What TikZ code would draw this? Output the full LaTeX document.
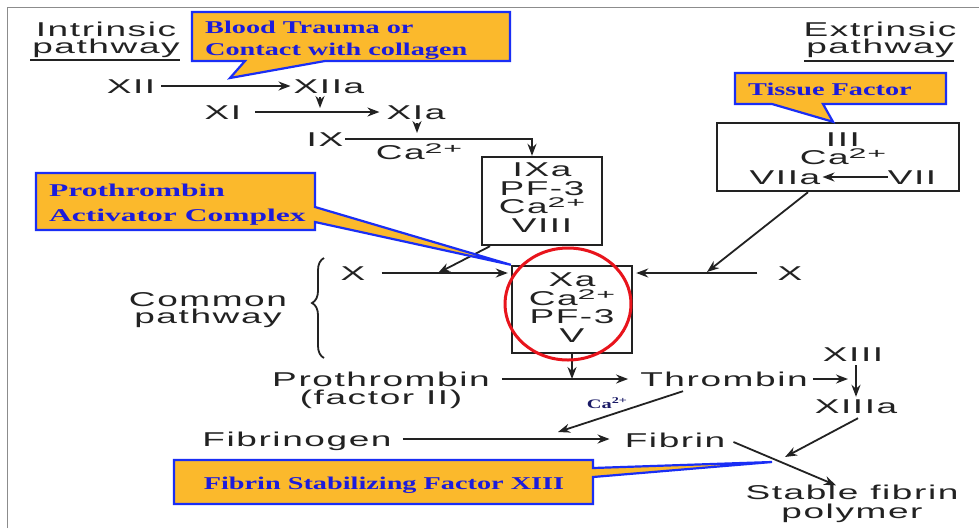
\documentclass[tikz,border=0pt]{standalone}
\usepackage{fontspec}
\setmainfont{Liberation Sans}[FakeStretch=1.85,LetterSpace=8]
\newfontfamily\supfont{Liberation Sans}[FakeStretch=2.3,LetterSpace=6]
\newfontfamily\calfont{Liberation Serif}[FakeStretch=1.57]
\newfontfamily\calwide{Liberation Serif}[FakeStretch=1.75]
\usetikzlibrary{arrows.meta,decorations.pathreplacing}
\definecolor{ink}{HTML}{222222}
\definecolor{calfill}{HTML}{FBB92C}
\definecolor{calblue}{HTML}{1A2EF5}
\definecolor{caltext}{HTML}{1C1CDC}
\definecolor{canavy}{HTML}{1A1A66}
\definecolor{ringred}{HTML}{E8141C}
\newcommand\catwo{Ca\smash{\raisebox{6pt}{\supfont\fontsize{14}{14}\selectfont 2+}}}
\newcommand\casmall{Ca\smash{\raisebox{4.5pt}{\fontsize{9}{9}\selectfont 2+}}}
\begin{document}
\begin{tikzpicture}[x=1pt,y=-1pt,
  lbl/.style={font=\fontsize{20}{20}\selectfont, inner sep=0pt, text height=14pt, text depth=0pt, text=ink},
  boxnode/.style={draw=ink, line width=2.4pt, font=\fontsize{20}{18.5}\selectfont, text=ink, align=center, inner sep=0pt},
  arr/.style={draw=ink, line width=1.8pt, -{Stealth[length=12pt,width=9pt]}},
  callout/.style={fill=calfill, draw=calblue, line width=2.2pt, line join=miter},
  caltxt/.style={font=\calfont\bfseries\fontsize{18}{18}\selectfont, text=caltext, inner sep=0pt, anchor=base west},
  calwtxt/.style={font=\calwide\bfseries\fontsize{18}{18}\selectfont, text=caltext, inner sep=0pt, anchor=base west}
]
\useasboundingbox (0,0) rectangle (979,528);
\fill[white] (0,0) rectangle (979,528);
\draw[black!45, line width=1pt] (7,528) -- (7,7) -- (979,7);

% ---- labels ----
\node[lbl] (intr1) at (106,29) {Intrinsic};
\node[lbl] (intr2) at (106,46) {pathway};
\node[lbl] (ext1) at (880,29) {Extrinsic};
\node[lbl] (ext2) at (880,46) {pathway};
\node[lbl] (xii) at (131,86) {XII};
\node[lbl] (xiia) at (329,86) {XIIa};
\node[lbl] (xi) at (223,112) {XI};
\node[lbl] (xia) at (416,112) {XIa};
\node[lbl] (ix) at (325,139) {IX};
\node[lbl] (ca1) at (419,152) {\catwo};
\node[boxnode, minimum width=120pt, minimum height=88pt, text depth=7pt] (ixbox) at (542,201) {IXa\\PF-3\\\catwo\\VIII};
\node[boxnode, minimum width=120pt, minimum height=87pt, text depth=4pt] (xabox) at (572,309.5) {Xa\\\catwo\\PF-3\\V};
\node[boxnode, minimum width=242pt, minimum height=68pt] (tfbox) at (838,157) {};
\node[lbl] (iii) at (843,139) {III};
\node[lbl] (ca3) at (843,157) {\catwo};
\node[lbl] (viia) at (785,177) {VIIa};
\node[lbl] (vii) at (912,177) {VII};
\node[lbl] (xl) at (353,273) {X};
\node[lbl] (xr) at (790,273) {X};
\node[lbl] (cm1) at (208,299) {Common};
\node[lbl] (cm2) at (208,316) {pathway};
\node[lbl] (pro) at (381,379) {Prothrombin};
\node[lbl] (pro2) at (381,397) {(factor II)};
\node[lbl] (thr) at (724,379) {Thrombin};
\node[lbl] (xiii) at (853,354) {XIII};
\node[lbl] (xiiia) at (856,406) {XIIIa};
\node[lbl] (fbg) at (297,439) {Fibrinogen};
\node[lbl] (fbn) at (675,440) {Fibrin};
\node[lbl] (st1) at (852,492.5) {Stable fibrin};
\node[lbl] (st2) at (852,511) {polymer};
\node[font=\calfont\bfseries\fontsize{13}{13}\selectfont, text=canavy, inner sep=0pt] (ca4) at (607,404) {\casmall};

% underlines
\draw[ink, line width=1.8pt] ([xshift=-2pt,yshift=-7pt]intr2.south west) -- ([yshift=-7pt]intr2.south east);
\draw[ink, line width=1.8pt] ([xshift=-2pt,yshift=-8pt]ext2.south west) -- ([yshift=-8pt]ext2.south east);

% brace
\draw[ink, line width=1.8pt, decorate, decoration={brace, amplitude=12pt, aspect=0.55}] (324,358) -- (324,258);

% ---- free ends ----
\coordinate (c12) at (320,108);
\coordinate (c11) at (417,133);
\coordinate (cix) at ([xshift=-10pt]ixbox.north);
\coordinate (c6) at (438,273);
\coordinate (c9) at (707,272);
\coordinate (c13) at (848,379);
\coordinate (c15) at (558,432);
\coordinate (c17) at (785,457);

% ---- arrows ----
\draw[arr, shorten <=6pt, shorten >=3pt] (xii) -- (xiia);
\draw[arr, shorten <=4pt] (xiia.south -| c12) -- (c12);
\draw[arr, shorten <=14pt, shorten >=7pt] (xi) -- (xia);
\draw[arr, shorten <=4pt] (xia.south -| c11) -- (c11);
\draw[arr, shorten <=2pt] (ix.east) -| (cix);
\draw[arr] ([xshift=-52pt]ixbox.south) -- (c6);
\draw[arr, shorten <=16pt, shorten >=3pt] (xl.east) -- (xl.east -| xabox.west);
\draw[arr, shorten <=20pt, shorten >=3pt] (xr.west) -- (xr.west -| xabox.east);
\draw[arr] ([xshift=-30pt]tfbox.south) -- (c9);
\draw[arr, shorten >=2pt] (vii.west) -- (viia.east);
\draw[arr] (xabox.south) -- (xabox.south |- thr.center);
\draw[arr, shorten <=12pt, shorten >=12pt] (pro) -- (thr);
\draw[arr, shorten <=5pt] (thr.east) -- (c13);
\draw[arr, shorten <=4pt, shorten >=2pt] (xiii.south -| xiiia.north) -- (xiiia.north);
\draw[arr] ([xshift=-41pt,yshift=-5pt]thr.south) -- (c15);
\draw[arr, shorten <=11pt, shorten >=15pt] (fbg.east) -- (fbg.east -| fbn.west);
\draw[arr] ([xshift=2pt,yshift=-5pt]xiiia.south) -- (c17);
\draw[arr] ([xshift=8pt,yshift=-2pt]fbn.east) -- ([xshift=-16pt]st1.north);

% red ring
\draw[ringred, line width=3pt] (568,304) ellipse [x radius=63pt, y radius=56pt];

% ---- callouts ----
\coordinate (tip1) at (230,78);
\coordinate (tip2) at ([xshift=-5pt]tfbox.north);
\coordinate (tip3) at (xabox.north west);
\coordinate (tip4) at (772,462);
\draw[callout] (192,12) -- (510,12) -- (510,61) -- (325,61) -- (tip1) -- (245,61) -- (192,61) -- cycle;
\draw[callout] (735,73) -- (946,73) -- (946,104) -- (823,104) -- (tip2) -- (772,104) -- (735,104) -- cycle;
\draw[callout] (36,173) -- (315,173) -- (315,207) -- (tip3) -- (315,222) -- (315,230) -- (36,230) -- cycle;
\draw[callout] (174,460) -- (593,460) -- (593,468) -- (tip4) -- (593,477) -- (593,504) -- (174,504) -- cycle;

\node[caltxt] (bt1) at (205,33) {Blood Trauma or};
\node[caltxt] (bt2) at (205,55) {Contact with collagen};
\node[caltxt] (tft) at (748,95) {Tissue Factor};
\node[calwtxt] (pa1) at (49,196) {Prothrombin};
\node[calwtxt] (pa2) at (49,221) {Activator Complex};
\node[caltxt, anchor=base] (fs) at (384,489) {Fibrin Stabilizing Factor XIII};
\end{tikzpicture}
\end{document}
